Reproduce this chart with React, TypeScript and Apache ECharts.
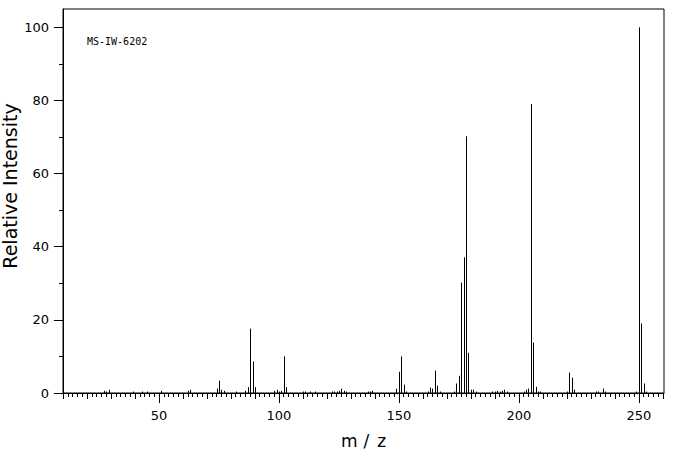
import React, { useEffect, useRef } from "react";
import * as echarts from "echarts";

const mzValues = [
  27, 28, 29, 39, 43, 45, 51, 62, 63, 74, 75, 76, 77, 82, 86, 87, 88, 89, 90,
  98, 99, 100, 101, 102, 103, 110, 111, 113, 115, 122, 123, 124, 125, 126, 127, 128,
  137, 138, 139, 149, 150, 151, 152, 153, 162, 163, 164, 165, 166, 167,
  173, 174, 175, 176, 177, 178, 179, 180, 181, 182, 189, 190, 191, 192, 193, 194, 195,
  202, 203, 204, 205, 206, 207, 208, 209, 220, 221, 222, 223, 232, 233, 235, 236,
  249, 250, 251, 252, 253,
];
const intensities = [
  0.6, 0.4, 0.9, 0.4, 0.4, 0.4, 0.6, 0.6, 0.9, 1.2, 3.4, 0.9, 0.6, 0.4, 0.6, 1.6, 17.6, 8.6, 1.6,
  0.6, 0.9, 0.4, 0.6, 10.0, 1.6, 0.4, 0.4, 0.4, 0.4, 0.4, 0.4, 0.4, 0.6, 1.2, 0.6, 0.4,
  0.4, 0.4, 0.6, 1.2, 5.8, 10.0, 2.3, 0.4, 0.4, 1.5, 1.2, 6.1, 2.0, 0.4,
  0.4, 2.6, 4.7, 30.2, 37.1, 70.2, 11.0, 0.9, 0.9, 0.4, 0.4, 0.4, 0.6, 0.4, 0.6, 0.9, 0.4,
  0.4, 0.9, 1.2, 79.0, 13.8, 1.7, 0.4, 0.4, 0.4, 5.6, 4.2, 0.9, 0.4, 0.4, 1.2, 0.4,
  0.4, 100, 19.0, 2.6, 0.4,
];
const xTickLabels = [50, 100, 150, 200, 250];
const yTickLabels = [0, 20, 40, 60, 80, 100];
const yMinorTicks = [10, 30, 50, 70, 90];
const X_MIN = 10;
const X_MAX = 260.5;
const Y_MAX = 105;

const xTens: number[] = [];
for (let v = 10; v <= 260; v += 10) if (v % 50 !== 0) xTens.push(v);
const xTwos: number[] = [];
for (let v = 10; v <= 260; v += 2) if (v % 10 !== 0) xTwos.push(v);

const FONT = "DejaVu Sans";

export default function App() {
  const ref = useRef<HTMLDivElement>(null);
  useEffect(() => {
    if (!ref.current) return;
    const chart = echarts.init(ref.current, undefined, { renderer: "svg" });
    const data = mzValues.map((m, i) => [m, intensities[i]]);
    const baseX = {
      type: "value",
      gridIndex: 0,
      position: "bottom",
      min: X_MIN,
      max: X_MAX,
      splitLine: { show: false },
    };
    const baseY = {
      type: "value",
      gridIndex: 0,
      position: "left",
      min: 0,
      max: Y_MAX,
      splitLine: { show: false },
    };
    chart.setOption({
      animation: false,
      backgroundColor: "#fff",
      grid: {
        left: 63,
        right: 12,
        top: 9,
        bottom: 62,
        show: true,
        borderColor: "#000",
        borderWidth: 1,
        containLabel: false,
        outerBoundsMode: "none",
      },
      xAxis: [
        {
          ...baseX,
          name: "{a|m}{b|/}{c|z}",
          nameLocation: "middle",
          nameGap: 39,
          nameTextStyle: {
            color: "#000",
            fontFamily: FONT,
            fontSize: 17,
            rich: {
              a: { fontFamily: FONT, fontSize: 17, color: "#000", padding: [0, 6, 0, 0] },
              b: { fontFamily: FONT, fontSize: 17, color: "#000", padding: [0, 8, 0, 0] },
              c: { fontFamily: FONT, fontSize: 17, color: "#000" },
            },
          },
          axisLine: { show: true, lineStyle: { color: "#000", width: 1 } },
          axisTick: { show: true, customValues: xTickLabels, length: 10, lineStyle: { color: "#000" } },
          axisLabel: {
            show: true,
            customValues: xTickLabels,
            margin: 16,
            color: "#000",
            fontFamily: FONT,
            fontSize: 13,
          },
        },
        {
          ...baseX,
          axisLine: { show: false },
          axisTick: { show: true, customValues: xTens, length: 6, lineStyle: { color: "#000" } },
          axisLabel: { show: false },
        },
        {
          ...baseX,
          axisLine: { show: false },
          axisTick: { show: true, customValues: xTwos, length: 4, lineStyle: { color: "#000" } },
          axisLabel: { show: false },
        },
      ],
      yAxis: [
        {
          ...baseY,
          axisLine: { show: true, lineStyle: { color: "#000", width: 1 } },
          axisTick: { show: true, customValues: yTickLabels, length: 9, lineStyle: { color: "#000" } },
          axisLabel: {
            show: true,
            customValues: yTickLabels,
            margin: 14,
            color: "#000",
            fontFamily: FONT,
            fontSize: 13,
          },
        },
        {
          ...baseY,
          axisLine: { show: false },
          axisTick: { show: true, customValues: yMinorTicks, length: 4, lineStyle: { color: "#000" } },
          axisLabel: { show: false },
        },
      ],
      graphic: [
        {
          type: "text",
          x: 10,
          y: 186,
          rotation: Math.PI / 2,
          style: {
            text: "Relative Intensity",
            fill: "#000",
            font: `19px "${FONT}"`,
            align: "center",
            verticalAlign: "middle",
          },
        },
        {
          type: "text",
          x: 87,
          y: 41,
          style: {
            text: "MS-IW-6202",
            fill: "#000",
            font: `10px "DejaVu Sans Mono"`,
            align: "left",
            verticalAlign: "middle",
          },
        },
      ],
      series: [
        {
          type: "custom",
          xAxisIndex: 0,
          yAxisIndex: 0,
          data,
          renderItem: (params: any, api: any) => {
            const x = api.value(0);
            const y = api.value(1);
            const p0 = api.coord([x, 0]);
            const p1 = api.coord([x, y]);
            const px = Math.round(p0[0]) + 0.5;
            return {
              type: "line",
              shape: { x1: px, y1: p0[1], x2: px, y2: p1[1] },
              style: { stroke: "#000", lineWidth: 1 },
            };
          },
        },
      ],
    });
    return () => chart.dispose();
  }, []);
  return (
    <div
      ref={ref}
      style={{ position: "fixed", left: 0, top: 0, width: 676, height: 455, background: "#fff" }}
    />
  );
}
